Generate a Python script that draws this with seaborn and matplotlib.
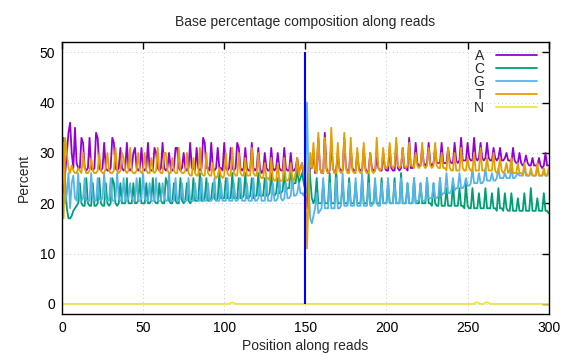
import numpy as np
import pandas as pd
import matplotlib
matplotlib.use("Agg")
import matplotlib.pyplot as plt
import seaborn as sns

# ---- data (percent per position along reads) ----
A = [22, 26, 30, 34, 36, 30, 27, 35, 28, 27, 27, 33, 32, 27, 26.5, 27, 33, 27, 26.5, 27, 34, 33, 27, 26.5, 27,
     32, 27, 26.5, 26.5, 27, 33, 32, 27, 26.5, 27, 31, 27, 26.5, 27, 32, 27, 26.5, 27, 30, 31, 27, 26.5, 27, 31, 27,
     26.5, 27, 32, 27, 26.5, 26.5, 31, 30, 27, 26.5, 27, 32, 27, 26.5, 27, 30, 27, 26.5, 27, 31, 31, 27, 26.5, 27, 30,
     27, 26.5, 27, 32, 27, 27, 26.5, 31, 27, 26.5, 27, 33, 32, 27, 27, 26.5, 32, 27, 26.5, 27, 31, 27, 27, 26.5, 32,
     27, 26.5, 27, 31, 27, 26.5, 27, 32, 31, 27, 26.5, 27, 31, 27, 26.5, 26.5, 32, 27, 26.5, 27, 31, 27, 26, 26.5, 30,
     27, 26.5, 26.5, 31, 27, 26.5, 27, 30, 27, 26.5, 26.5, 31, 27, 26.5, 26.5, 30, 26.5, 26.5, 27, 29, 26.5, 27, 28, 25, 22,
     19, 24, 27, 27, 30, 26, 26.5, 33, 27, 26, 26, 34, 27, 26, 26.5, 32, 27, 26, 26.5, 30, 27, 26.5, 26.5, 33, 27,
     26.5, 26.5, 31, 27, 26.5, 26.5, 30, 27, 26.5, 26.5, 31, 27, 26, 26.5, 30, 27, 26.5, 26.5, 29, 27, 26.5, 26.5, 30, 27, 26.5,
     26.5, 31, 27, 26.5, 26.5, 32, 27, 26.5, 27, 31, 27, 27, 26.5, 33, 27, 27, 27.5, 32, 28, 27.5, 27.5, 31, 28, 27.5, 28,
     32, 28, 27.5, 28, 31, 28, 28, 28, 32, 28, 28, 28, 31, 28.5, 28, 28, 32, 28.5, 28, 28.5, 33, 28.5, 28.5, 28.5, 32,
     29, 28.5, 28.5, 33, 29, 28.5, 29, 32, 29, 28.5, 29, 32, 29, 28.5, 28.5, 31, 29, 28.5, 29, 31, 28.5, 28.5, 29, 30, 28.5,
     28.5, 28, 31, 28.5, 28, 28, 30, 28, 27.5, 28, 29.5, 28, 27.5, 27.5, 29, 27.5, 27.5, 27.5, 29, 27.5, 27, 27.5, 30, 27.5, 27.5]

C = [33, 24, 19, 17, 17, 17.5, 18.5, 19, 19.5, 20, 24, 20, 19.5, 19.5, 25, 20, 19.5, 19.5, 24, 19.5, 19.5, 20, 25, 20, 19.5,
     19.5, 24, 20, 19.5, 20, 25, 24, 20, 19.5, 20, 24, 20, 20, 20, 25, 20, 20, 20, 24, 20, 20, 20.5, 25, 20, 20,
     20, 24, 20, 20, 20.5, 25, 20.5, 20, 20, 24, 20.5, 20, 20, 25, 24, 20.5, 20, 20, 24, 20.5, 20, 20, 25, 20.5, 20,
     20.5, 24, 20.5, 20, 20.5, 25, 20.5, 20.5, 20.5, 26, 20.5, 20.5, 21, 25, 20.5, 20.5, 21, 24, 21, 20.5, 21, 26, 21, 21, 21,
     25, 21, 21, 21, 26, 21, 21, 21, 25, 21, 21, 21.5, 26, 21, 21, 21.5, 25, 21, 21.5, 21.5, 26, 21.5, 21.5, 21.5, 25,
     21.5, 21.5, 22, 26, 22, 21.5, 22, 25, 22, 22, 22.5, 26, 22.5, 23, 23, 27, 23.5, 24, 24, 27, 24, 25, 26, 24, 23,
     22, 28, 25, 21, 20, 21, 25, 20, 20, 20, 24, 20, 20, 20, 26, 20, 20, 20, 27, 20, 20, 20, 24, 20, 20,
     20, 25, 20, 20, 20, 24, 20, 20, 20, 25, 20, 20, 20, 26, 20, 20, 20, 24, 20, 20, 20, 25, 20, 20, 20,
     24, 20, 20, 20, 25, 20, 20, 20, 26, 20, 20, 20, 24, 20, 20, 20, 25, 20, 20, 20, 24, 20, 20, 20, 25,
     20, 20, 19.5, 24, 20, 19.5, 19.5, 25, 19.5, 19.5, 19.5, 23, 19.5, 19.5, 19.5, 24, 19.5, 19.5, 19.5, 23, 19.5, 19.5, 19, 24, 19.5,
     19, 19, 23, 19, 19, 19, 22, 19, 19, 19, 23, 19, 19, 19, 22, 19, 19, 18.5, 23, 19, 19, 18.5, 22, 19, 18.5,
     18.5, 22, 18.5, 18.5, 18.5, 21, 18.5, 18.5, 18.5, 22, 18.5, 18.5, 18.5, 23, 18.5, 18.5, 18.5, 21, 18.5, 18.5, 18.5, 22, 18.5, 18.5, 18]

G = [32, 20, 22, 26, 19, 24, 25.5, 21, 20.5, 26, 20.5, 20.5, 21, 25, 20.5, 20.5, 20.5, 26, 21, 20.5, 20.5, 25, 21, 20.5, 21,
     26, 21, 20.5, 20.5, 25, 20.5, 20.5, 21, 26, 21, 20.5, 20.5, 25, 20.5, 20.5, 21, 24, 21, 20.5, 20.5, 25, 20.5, 20.5, 21, 26,
     21, 20.5, 20.5, 24, 20.5, 20.5, 20.5, 25, 20.5, 20.5, 20.5, 24, 21, 20.5, 20.5, 26, 20.5, 20.5, 20.5, 25, 20.5, 20.5, 21, 24, 20.5,
     20.5, 20.5, 25, 20.5, 20.5, 20.5, 24, 21, 20.5, 20.5, 25, 20.5, 20.5, 20.5, 24, 20.5, 20.5, 21, 25, 20.5, 20.5, 20.5, 24, 20.5, 20.5,
     20.5, 25, 20.5, 20.5, 20.5, 24, 20.5, 20.5, 21, 25, 20.5, 20.5, 20.5, 24, 20.5, 20.5, 20.5, 25, 20.5, 20.5, 21, 24, 20.5, 20.5, 20.5,
     25, 20.5, 20.5, 20.5, 24, 20.5, 20.5, 21, 25, 21, 20.5, 21, 24, 21, 21, 21.5, 25, 21.5, 21.5, 22, 24, 22, 22, 21.5, 23,
     40, 24, 17, 16, 17.5, 19, 22, 18, 18.5, 19, 25, 19, 19, 19, 24, 19, 19, 19, 25, 19, 19, 19.5, 26, 19.5, 19.5,
     19.5, 24, 19.5, 19.5, 19.5, 25, 19.5, 19.5, 19.5, 26, 19.5, 19.5, 19.5, 24, 19.5, 19.5, 20, 25, 20, 19.5, 19.5, 24, 20, 20, 20,
     25, 20, 20, 20, 24, 20, 20, 20, 25, 20, 20, 20, 24, 20, 20, 20, 25, 20, 20.5, 20.5, 24, 20.5, 20.5, 20.5, 25,
     21, 21, 21, 24, 21, 21, 21.5, 25, 21.5, 22, 22, 26, 22, 22, 22.5, 25, 22.5, 23, 23, 26, 23, 23, 23.5, 25, 23.5,
     23.5, 24, 27, 24, 24, 24, 26, 24, 24, 24.5, 27, 24.5, 24.5, 24.5, 26, 24.5, 24.5, 25, 27, 25, 25, 25, 26, 25, 25,
     25, 27, 25, 25, 25.5, 26, 25.5, 25.5, 25.5, 27, 25.5, 25.5, 25.5, 26, 25.5, 25.5, 25.5, 27, 25.5, 25.5, 25.5, 26, 25.5, 25.5, 26]

T = [17, 33, 30, 27, 26, 27.5, 26.5, 26, 26, 27, 26.5, 26, 30, 27, 26, 26, 26.5, 29, 26.5, 26, 26, 26.5, 30, 26.5, 26,
     26, 27, 30, 26.5, 26, 26, 26.5, 31, 26.5, 26, 26.5, 30, 29, 26.5, 26, 26.5, 31, 26.5, 26, 26, 26.5, 30, 26.5, 26, 26.5,
     30, 26.5, 26, 26, 29, 26.5, 26, 26.5, 31, 26.5, 26, 26, 30, 30, 26.5, 26, 26, 29, 26.5, 26, 26, 31, 26.5, 26, 26,
     26.5, 30, 26, 25.5, 25.5, 29, 26, 25.5, 25.5, 31, 26, 25.5, 25.5, 30, 26, 25.5, 25.5, 28, 25.5, 25, 25.5, 27, 25.5, 25, 25.5,
     30, 26, 25.5, 25.5, 31, 26, 25.5, 25.5, 30, 26, 25.5, 25.5, 29, 25.5, 25.5, 25.5, 31, 26, 25.5, 25.5, 30, 25.5, 25, 25, 28,
     25, 25, 24.5, 29, 25, 24.5, 24.5, 28, 24.5, 24.5, 24.5, 29, 24.5, 24.5, 25, 28, 25, 24.5, 26, 29, 25.5, 27, 28, 26, 24,
     11, 22, 30, 27, 32, 26.5, 26, 34, 27, 26, 26, 33, 26.5, 26, 26.5, 35, 27, 26, 26, 32, 26.5, 26, 26.5, 34, 27,
     26, 26, 33, 26.5, 26, 26, 31, 26.5, 26, 26.5, 32, 26.5, 26, 26, 30, 26.5, 26, 26.5, 33, 27, 26.5, 27, 31, 27, 27,
     27.5, 32, 27.5, 27, 27.5, 33, 27.5, 27, 27.5, 31, 27.5, 27, 27.5, 32, 27.5, 27.5, 27, 30, 27.5, 27, 27.5, 32, 27.5, 27, 27.5,
     31, 27.5, 27, 27.5, 32, 27.5, 27, 27, 30, 27, 27, 26.5, 31, 27, 26.5, 26.5, 30, 26.5, 26.5, 26.5, 31, 27, 26.5, 26.5, 29,
     27, 26.5, 26.5, 30, 26.5, 26.5, 26.5, 31, 26.5, 26.5, 26.5, 29, 26.5, 26.5, 26.5, 30, 26.5, 26, 26.5, 29, 26.5, 26, 26.5, 28, 26,
     26.5, 29, 26, 26, 26, 28, 26, 26, 25.5, 28, 26, 25.5, 25.5, 27, 25.5, 25.5, 25.5, 28, 25.5, 25.5, 25.5, 27, 25.5, 25.5, 27]

N = [0, 0, 0, 0, 0, 0, 0, 0, 0, 0, 0, 0, 0, 0, 0, 0, 0, 0, 0, 0, 0, 0, 0, 0, 0,
     0, 0, 0, 0, 0, 0, 0, 0, 0, 0, 0, 0, 0, 0, 0, 0, 0, 0, 0, 0, 0, 0, 0, 0, 0,
     0, 0, 0, 0, 0, 0, 0, 0, 0, 0, 0, 0, 0, 0, 0, 0, 0, 0, 0, 0, 0, 0, 0, 0, 0,
     0, 0, 0, 0, 0, 0, 0, 0, 0, 0, 0, 0, 0, 0, 0, 0, 0, 0, 0, 0, 0, 0, 0, 0, 0,
     0, 0, 0, 0.2, 0.3, 0.2, 0, 0, 0, 0, 0, 0, 0, 0, 0, 0, 0, 0, 0, 0, 0, 0, 0, 0, 0,
     0, 0, 0, 0, 0, 0, 0, 0, 0, 0, 0, 0, 0, 0, 0, 0, 0, 0, 0, 0, 0, 0, 0, 0, 0,
     0, 0, 0, 0, 0, 0, 0, 0, 0, 0, 0, 0, 0, 0, 0, 0, 0, 0, 0, 0, 0, 0, 0, 0, 0,
     0, 0, 0, 0, 0, 0, 0, 0, 0, 0, 0, 0, 0, 0, 0, 0, 0, 0, 0, 0, 0, 0, 0, 0, 0,
     0, 0, 0, 0, 0, 0, 0, 0, 0, 0, 0, 0, 0, 0, 0, 0, 0, 0, 0, 0, 0, 0, 0, 0, 0,
     0, 0, 0, 0, 0, 0, 0, 0, 0, 0, 0, 0, 0, 0, 0, 0, 0, 0, 0, 0, 0, 0, 0, 0, 0,
     0, 0, 0, 0, 0.3, 0.3, 0.2, 0, 0, 0, 0.3, 0.3, 0.2, 0, 0, 0, 0, 0, 0, 0, 0, 0, 0, 0, 0,
     0, 0, 0, 0, 0, 0, 0, 0, 0, 0, 0, 0, 0, 0, 0, 0, 0, 0, 0, 0, 0, 0, 0, 0, 0]

bases = ["A", "C", "G", "T", "N"]
series = {"A": A, "C": C, "G": G, "T": T, "N": N}
colors = {"A": "#9400D3", "C": "#009E73", "G": "#56B4E9", "T": "#E69F00", "N": "#F0E442"}
read1_end = 150      # boundary between read 1 and read 2
boundary_top = 50
x_ticks = [0, 50, 100, 150, 200, 250, 300]
y_ticks = [0, 10, 20, 30, 40, 50]

frames = []
for b in bases:
    vals = series[b]
    frames.append(pd.DataFrame({"pos": np.arange(1, len(vals) + 1), "pct": vals, "base": b}))
df = pd.concat(frames, ignore_index=True)

sns.set_style("white")
plt.rcParams["font.family"] = ["Liberation Sans", "DejaVu Sans"]

fig = plt.figure(figsize=(5.76, 3.6), dpi=100)
ax = fig.add_axes([0.1076, 0.1278, 0.845, 0.755])

sns.lineplot(data=df, x="pos", y="pct", hue="base", hue_order=bases,
             palette=colors, linewidth=1.3, ax=ax, legend=True, estimator=None)

ax.vlines(read1_end, 0, boundary_top, color="#0000FF", linewidth=1.5, zorder=5)

ax.set_xlim(0, 300)
ax.set_ylim(-2, 52)
ax.set_xticks(x_ticks)
ax.set_yticks(y_ticks)
ax.tick_params(direction="in", length=5, width=1, top=True, right=True,
               labelsize=10, colors="black", pad=5)
ax.grid(True, linestyle=(0, (1, 3)), color="#C8C8C8", linewidth=0.7)
for s in ax.spines.values():
    s.set_color("black")
    s.set_linewidth(1.0)

ax.set_title("Base percentage composition along reads", fontsize=10, pad=12)
ax.set_xlabel("Position along reads", fontsize=10, labelpad=3)
ax.set_ylabel("Percent", fontsize=10, labelpad=6)

leg = ax.legend(loc="upper right", frameon=False, markerfirst=False,
                handlelength=2.9, handletextpad=0.9, labelspacing=-0.07,
                fontsize=10, borderaxespad=0.3, bbox_to_anchor=(0.995, 1.01))
for t in leg.get_texts():
    t.set_ha("right")

fig.savefig("out.png", dpi=100)
